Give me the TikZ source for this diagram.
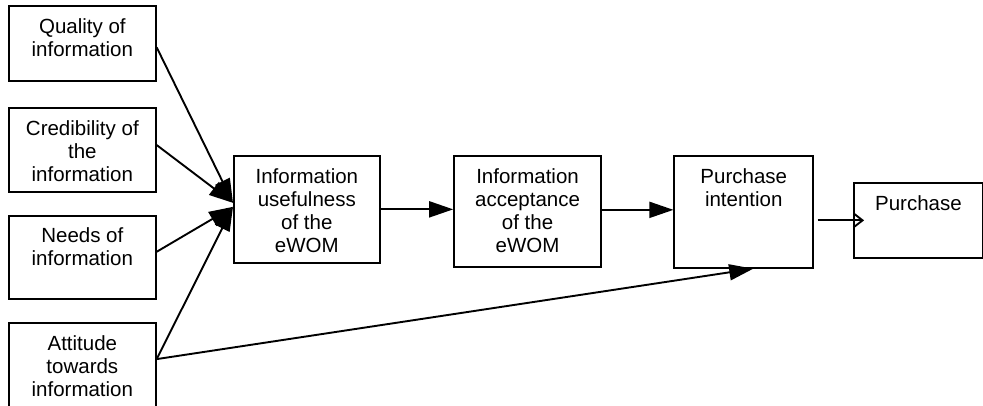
\documentclass[tikz,border=0pt]{standalone}
\usepackage{fontspec}
\setmainfont{Liberation Sans}
\usetikzlibrary{arrows.meta,positioning}

\tikzset{
  factor/.style={rectangle, draw, line width=1.7pt, minimum width=147pt, inner sep=0pt},
  caption/.style={anchor=north, align=center, inner sep=0pt, yshift=-13pt,
                  font=\fontsize{20.5}{23}\selectfont},
  link/.style={line width=1.9pt, -{Triangle[length=24pt,width=16pt]}},
}

\begin{document}
\begin{tikzpicture}
    \useasboundingbox (0,0) rectangle (983pt,-405pt);

    % antecedents
    \node (qual) [factor, minimum height=75pt, anchor=north west] at (8pt,-5pt) {};
    \node (cred) [factor, minimum height=84pt, below=25.5pt of qual] {};
    \node (need) [factor, minimum height=83pt, below=22pt of cred] {};
    \node (atti) [factor, minimum height=100pt, below=22.5pt of need] {};

    % main chain
    \node (usef) [factor, minimum width=146pt, minimum height=107pt, anchor=north west] at (233pt,-155pt) {};
    \node (acce) [factor, minimum height=111pt, right=72.5pt of usef.north east, anchor=north west] {};
    \node (inte) [factor, minimum width=139pt, minimum height=112pt, right=71.5pt of acce.north east, anchor=north west] {};
    \node (purc) [factor, minimum width=129pt, minimum height=75pt, right=39pt of inte.north east, anchor=north west, yshift=-27pt] {};

    \node (qual-t) [caption] at (qual.north) {Quality of\\information};
    \node (cred-t) [caption] at (cred.north) {Credibility of\\the\\information};
    \node (need-t) [caption] at (need.north) {Needs of\\information};
    \node (atti-t) [caption] at (atti.north) {Attitude\\towards\\information};
    \node (usef-t) [caption] at (usef.north) {Information\\usefulness\\of the\\eWOM};
    \node (acce-t) [caption] at (acce.north) {Information\\acceptance\\of the\\eWOM};
    \node (inte-t) [caption] at (inte.north) {Purchase\\intention};
    \node (purc-t) [caption] at (purc.north) {Purchase};

    \draw [link] ([yshift=-4pt]qual.east) -- ([yshift=6.5pt]usef.west);
    \draw [link] ([yshift=5pt]cred.east) -- ([yshift=6.5pt]usef.west);
    \draw [link] ([yshift=5.5pt]need.east) -- ([yshift=2.5pt]usef.west);
    \draw [link] ([yshift=-37pt]atti.north east) -- ([yshift=2.5pt]usef.west);
    \draw [link] ([yshift=-37pt]atti.north east) -- ([xshift=9.5pt]inte.south);

    \draw [link] (usef.east) -- (usef.east -| acce.west);
    \draw [link] ([yshift=1.5pt]acce.east) -- ([yshift=1.5pt]acce.east -| inte.west);
    \draw [line width=1.9pt, -{Straight Barb[length=9pt,width=14pt]}]
        ([xshift=3.5pt]inte.east |- purc.west) -- ([xshift=11pt]purc.west);
\end{tikzpicture}
\end{document}
